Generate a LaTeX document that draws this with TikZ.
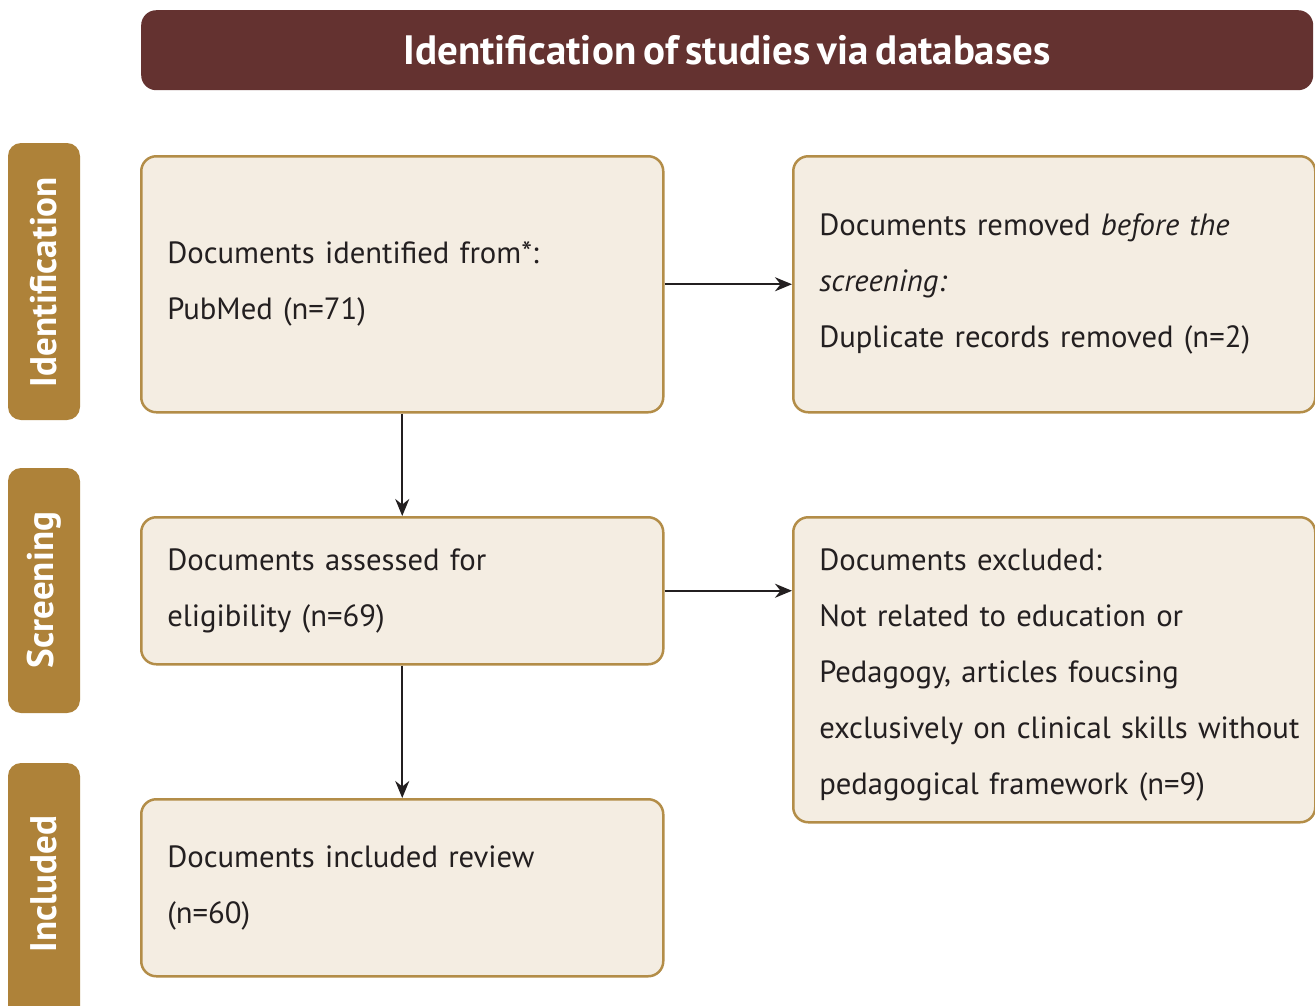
\documentclass[tikz,border=0pt]{standalone}
\usepackage{fontspec}
\setmainfont{PT Sans}[WordSpace=0.7]
\usetikzlibrary{arrows.meta}
\definecolor{titlecol}{HTML}{643230}
\definecolor{sidecol}{HTML}{AE8239}
\definecolor{boxfill}{HTML}{F4EDE2}
\definecolor{boxline}{HTML}{B38D48}
\definecolor{txt}{HTML}{231F20}
\tikzset{
  stagebox/.style={draw=boxline, line width=2.5pt, fill=boxfill, rounded corners=15pt,
    anchor=north west, inner xsep=26pt, inner ysep=0pt, align=left, text=txt,
    font=\fontsize{30.7}{56}\selectfont, minimum width=522pt, text width=470pt},
  sidetext/.style={text=white, font=\fontsize{37}{40}\selectfont\bfseries, rotate=90},
  flow/.style={line width=2pt, draw=txt, -{Stealth[length=17pt,width=14pt]}}
}
\begin{document}
\begin{tikzpicture}[x=1pt,y=-1pt]
\clip (0,0) rectangle (1315,1005);
\fill[white] (0,0) rectangle (1315,1005);
% title
\node[fill=titlecol, rounded corners=15pt, anchor=north west, minimum width=1172pt, minimum height=80pt, inner sep=0pt,
  text=white, font=\fontsize{41}{44}\selectfont\bfseries] (title) at (141,10) {Identification of studies via databases};
% side labels
\fill[sidecol, rounded corners=13pt] (8,143) rectangle (80,420);
\node[sidetext] (sid) at (44,282) {Identification};
\fill[sidecol, rounded corners=13pt] (8,468) rectangle (80,713);
\node[sidetext] (sscr) at (44,590) {Screening};
\fill[sidecol, rounded corners=13pt] (8,763) rectangle (80,1030);
\node[sidetext] (sinc) at (44,884) {Included};
% boxes
\node[stagebox, minimum height=256pt] (b1) at (140,155) {Documents identified from*:\\PubMed (n=71)};
\node[stagebox, minimum height=256pt] (b2) at (792,155) {Documents removed \textit{before the}\\\textit{screening:}\\Duplicate records removed (n=2)};
\node[stagebox, minimum height=147pt] (b3) at (140,516) {Documents assessed for\\eligibility (n=69)};
\node[stagebox, minimum height=305pt] (b4) at (792,516) {\rule{0pt}{32pt}Documents excluded:\\Not related to education or\\Pedagogy, articles foucsing\\\mbox{exclusively on clinical skills without}\\pedagogical framework (n=9)};
\node[stagebox, minimum height=177pt] (b5) at (140,798) {Documents included review\\(n=60)};
% arrows
\draw[flow] (b1.east) -- (b2.west);
\draw[flow] (b3.east) -- (b3.east -| b4.west);
\draw[flow] (b1.south) -- (b3.north);
\draw[flow] (b3.south) -- (b5.north);
\end{tikzpicture}
\end{document}
